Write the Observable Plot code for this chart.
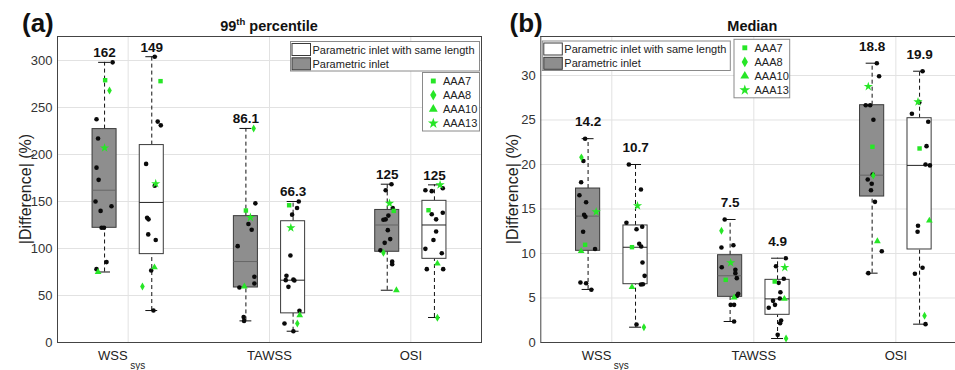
<!DOCTYPE html>
<html><head><meta charset="utf-8">
<script src="https://cdn.jsdelivr.net/npm/d3@7"></script>
<script src="https://cdn.jsdelivr.net/npm/@observablehq/plot@0.6"></script>
<style>
html,body{margin:0;padding:0;background:#fff;}
#wrap{position:relative;width:955px;height:370px;overflow:hidden;background:#fff;}
#pa,#pb{position:absolute;top:0;}
#pa{left:0;} #pb{left:483px;}
</style></head><body>
<div id="wrap"><div id="pa"></div><div id="pb"></div></div>
<script>
// ---------- data ----------
const categories = ["WSS", "TAWSS", "OSI"];
const categorySub = ["sys", "", ""];
const inlets = ["Parametric inlet", "Parametric inlet with same length"];
const patients = ["AAA7", "AAA8", "AAA10", "AAA13"];
const panelTags = ["(a)", "(b)"];
const yLabel = "|Difference| (%)";

// group order: WSS gray, WSS white, TAWSS gray, TAWSS white, OSI gray, OSI white
// Panel (a): 99th percentile
const p99Ticks = [0, 50, 100, 150, 200, 250, 300];
const p99Median = [162, 149, 86.1, 66.3, 125, 125];
const p99Q1 = [122, 94, 58.5, 31, 96.5, 89];
const p99Q3 = [227, 210, 134.4, 129, 141, 150.7];
const p99Lo = [75, 34, 23, 12, 55.6, 26.6];
const p99Hi = [298, 304, 227.7, 150, 168.4, 167.7];
const p99Black = [
  [298, 237.5, 217, 186, 173, 150, 145, 140, 122, 122, 85.5, 78],
  [304, 235, 231, 190, 166.7, 132.7, 131, 115, 109, 76.6, 34],
  [148, 126, 120, 102.5, 70, 62.8, 58.5, 27, 23],
  [150, 143, 136, 92.5, 71, 66.3, 67, 66, 59.2, 33.7, 20.2, 12],
  [168.4, 162, 143, 135, 131, 130.5, 119.5, 110, 106, 98, 86, 83.3],
  [164, 162, 161, 138, 136.5, 131, 118, 109, 99.6, 95, 78, 78]
];
const p99BlackJitter = [
  [.057, -.057, -.046, -.057, -.042, -.064, .049, -.028, -.021, -.004, .014, -.057],
  [.021, .042, .064, -.040, .021, -.033, -.023, -.025, .028, -.004, .012],
  [.067, .018, .041, -.058, .060, .060, -.046, -.016, -.013],
  [.040, .028, -.007, -.019, -.047, -.052, .002, .009, -.033, .045, -.061, .002],
  [.030, -.011, .039, .008, -.011, -.027, .004, .021, -.018, -.048, .035, .035],
  [.059, -.064, -.019, .059, -.019, .012, .012, -.007, -.064, .052, -.054, .062]
];
// per group: [AAA7, AAA8, AAA10, AAA13]
const p99Green = [
  [279, 268, 75, 207],
  [278, 59.6, 80, 169],
  [140.4, 227.7, 59.6, 133],
  [146, 20.2, 29, 122],
  [140, 95.4, 55.6, 148],
  [140.7, 26.3, 84, 167.7]
];
const p99GreenJitter = [
  [.004, .035, -.046, 0],
  [.062, -.066, .019, .028],
  [0, .055, -.011, .032],
  [-.028, .030, .047, -.016],
  [.046, -.027, .065, .016],
  [-.042, .021, .021, .040]
];

// Panel (b): Median
const medTicks = [0, 5, 10, 15, 20, 25, 30];
const medMedian = [14.2, 10.7, 7.5, 4.9, 18.8, 19.9];
const medQ1 = [10.3, 6.55, 5.13, 3.11, 16.4, 10.45];
const medQ3 = [17.3, 13.15, 9.81, 7.04, 26.66, 25.2];
const medLo = [5.96, 1.72, 2.36, 0.45, 7.79, 2.06];
const medHi = [22.9, 20.0, 13.82, 9.47, 31.38, 30.48];
const medBlack = [
  [22.9, 20.4, 18.0, 16.55, 15.76, 14.35, 14.12, 12.44, 10.5, 6.74, 6.66, 5.92],
  [20.0, 17.19, 13.45, 13.0, 12.73, 11.09, 10.79, 8.99, 7.49, 6.52, 6.55, 2.02],
  [13.82, 10.93, 10.67, 8.46, 8.17, 7.79, 7.23, 5.47, 5.24, 4.23, 4.23, 2.36],
  [9.47, 8.57, 7.16, 6.7, 5.65, 4.94, 4.68, 4.23, 3.9, 2.47, 2.17, 0.86],
  [31.38, 29.92, 26.66, 26.66, 25.02, 18.88, 18.31, 17.83, 17.11, 15.8, 10.26, 7.79],
  [30.48, 26.97, 25.7, 24.8, 22.06, 20.0, 19.9, 13.11, 12.44, 8.39, 7.72, 2.06]
];
const medBlackJitter = [
  [-.021, -.033, -.049, -.061, -.014, -.028, -.019, -.035, .049, -.054, -.014, .023],
  [-.047, .038, -.064, .047, .007, .026, .040, .049, .064, .038, .052, .007],
  [-.038, .023, -.061, -.059, .037, .037, .047, .057, .049, .004, .028, .028],
  [.058, -.011, .044, .008, .020, .016, -.032, -.018, -.062, .025, .018, .001],
  [.033, .049, -.045, -.014, .009, .004, -.031, -.003, -.008, .020, .068, -.027],
  [.021, -.002, -.054, .061, .049, .042, .073, -.011, -.014, .021, -.033, .042]
];
const medGreen = [
  [10.98, 20.8, 10.26, 14.68],
  [10.71, 1.72, 6.22, 15.36],
  [7.04, 12.55, 5.06, 8.96],
  [6.85, 0.45, 4.91, 8.43],
  [21.99, 18.76, 11.38, 28.76],
  [21.8, 3.0, 13.7, 27.04]
];
const medGreenJitter = [
  [-.021, -.047, -.049, .057],
  [-.025, .059, -.025, .014],
  [-.031, -.061, .028, .004],
  [-.020, .060, .048, .051],
  [.002, .008, .037, -.027],
  [0, .035, .069, -.011]
];

// ---------- style ----------
const FONT = "'Liberation Sans', Arial, Helvetica, sans-serif";
const GREEN = "#27e627";
const GRAY = "#8e8e8e";
const EDGE = "#3a3a3a";
const GRID = "#e2e2e2";
const boxOffset = 0.167, boxHalf = 0.085, capHalf = 0.042;
const symbols = ["square", "diamond", "triangle", "star"];
const symbolR = [2.5, 2.4, 2.5, 2.9];
const d3Symbols = [d3.symbolSquare, d3.symbolDiamond, d3.symbolTriangle, d3.symbolStar];

function groupX(i) { return Math.floor(i / 2) + 1 + (i % 2 === 0 ? -boxOffset : boxOffset); }

function makePanel(cfg) {
  const boxes = cfg.median.map((m, i) => ({
    x: groupX(i), inlet: i % 2, med: m, q1: cfg.q1[i], q3: cfg.q3[i], lo: cfg.lo[i], hi: cfg.hi[i], label: String(m)
  }));
  const blacks = cfg.black.flatMap((vals, i) => vals.map((v, j) => ({x: groupX(i) + cfg.blackJitter[i][j], y: v})));
  const greens = cfg.green.flatMap((vals, i) => vals.map((v, k) => ({x: groupX(i) + cfg.greenJitter[i][k], y: v, k})));
  const gray = boxes.filter(d => d.inlet === 0), white = boxes.filter(d => d.inlet === 1);
  const catIdx = categories.map((c, i) => ({c, s: categorySub[i], x: i + 1}));

  const marks = [
    Plot.ruleY(cfg.ticks, {stroke: GRID}),
    Plot.ruleX([1, 2, 3], {stroke: GRID}),
    Plot.ruleX(boxes, {x: "x", y1: "q3", y2: "hi", stroke: "#111", strokeDasharray: "4,3"}),
    Plot.ruleX(boxes, {x: "x", y1: "lo", y2: "q1", stroke: "#111", strokeDasharray: "4,3"}),
    Plot.rect(gray, {x1: d => d.x - boxHalf, x2: d => d.x + boxHalf, y1: "q1", y2: "q3", fill: GRAY, stroke: EDGE}),
    Plot.rect(white, {x1: d => d.x - boxHalf, x2: d => d.x + boxHalf, y1: "q1", y2: "q3", fill: "#fff", stroke: EDGE}),
    Plot.ruleY(gray, {y: "med", x1: d => d.x - boxHalf, x2: d => d.x + boxHalf, stroke: "#666"}),
    Plot.ruleY(white, {y: "med", x1: d => d.x - boxHalf, x2: d => d.x + boxHalf, stroke: "#222"}),
    Plot.ruleY(boxes, {y: "hi", x1: d => d.x - capHalf, x2: d => d.x + capHalf, stroke: "#111"}),
    Plot.ruleY(boxes, {y: "lo", x1: d => d.x - capHalf, x2: d => d.x + capHalf, stroke: "#111"}),
    Plot.dot(blacks, {x: "x", y: "y", r: 2.3, fill: "#0a0a0a"}),
    ...patients.map((p, k) => Plot.dot(greens.filter(d => d.k === k), {x: "x", y: "y", symbol: symbols[k], r: symbolR[k], fill: GREEN})),
    Plot.text(boxes, {x: "x", y: "hi", text: "label", dy: cfg.labelDy, lineAnchor: "bottom", fontWeight: "bold", fontSize: 13.5, fill: "#111"}),
    Plot.text(catIdx.filter(d => !d.s), {x: "x", y: () => 0, text: "c", dy: 17.3, lineAnchor: "bottom", fontSize: 13, fill: "#222"}),
    Plot.text(catIdx.filter(d => d.s), {x: "x", y: () => 0, text: "c", dy: 17.3, dx: -0.5, textAnchor: "end", lineAnchor: "bottom", fontSize: 13, fill: "#222"}),
    Plot.text(catIdx.filter(d => d.s), {x: "x", y: () => 0, text: "s", dy: 26, dx: 2, textAnchor: "start", lineAnchor: "bottom", fontSize: 10, fill: "#222"}),
    Plot.axisY(cfg.ticks, {tickSize: 0, tickPadding: 5, fontSize: 13, label: null, color: "#333"}),
  ];
  if (cfg.fullFrame) marks.push(Plot.frame({stroke: "#444"}));
  else marks.push(
    Plot.ruleY([0, cfg.yMax], {stroke: "#444"}),
    Plot.ruleX([0.5], {stroke: "#444"})
  );

  const svg = Plot.plot({
    width: cfg.width, height: 370,
    marginTop: 36, marginBottom: 28, marginLeft: cfg.marginLeft, marginRight: cfg.marginRight,
    style: {fontFamily: FONT, fontSize: "13px", background: "transparent", overflow: "visible"},
    x: {domain: [0.5, cfg.xMax], axis: null},
    y: {domain: [0, cfg.yMax]},
    marks
  });
  document.querySelector(cfg.el).appendChild(svg);

  const s = d3.select(svg);
  // panel tag and title
  s.append("text").attr("x", cfg.tagX).attr("y", 31.5).attr("text-anchor", "start").attr("font-family", FONT)
    .attr("font-size", 26).attr("font-weight", "bold").attr("fill", "#111").text(cfg.tag);
  const t = s.append("text").attr("x", cfg.titleX).attr("y", 31).attr("text-anchor", "middle")
    .attr("font-family", FONT).attr("font-size", 14.5).attr("font-weight", "bold").attr("fill", "#111");
  cfg.title.forEach(part => {
    const ts = t.append("tspan").text(part.t);
    if (part.sup) ts.attr("font-size", 9.5).attr("dy", -6);
    else if (part.after) ts.attr("dy", 6);
  });
  // y label
  s.append("text").attr("transform", `translate(${cfg.yLabelX},189) rotate(-90)`)
    .attr("text-anchor", "middle").attr("dy", "0.35em").attr("font-family", FONT)
    .attr("font-size", 16).attr("fill", "#222").text(yLabel);

  // legend 1: inlets
  const L1 = cfg.leg1, L2 = cfg.leg2;
  const g = s.append("g").attr("font-family", FONT).attr("font-size", 11).attr("fill", "#222").attr("text-anchor", "start");
  g.append("rect").attr("x", L1.x).attr("y", L1.y).attr("width", L1.w).attr("height", 29.5)
    .attr("fill", "#fff").attr("stroke", "#8a8a8a");
  [inlets[1], inlets[0]].forEach((lab, r) => {
    const cy = L1.y + 8 + r * 14.3;
    g.append("rect").attr("x", L1.x + 1.5).attr("y", cy - 6).attr("width", 18.5).attr("height", 12)
      .attr("fill", r === 0 ? "#fff" : GRAY).attr("stroke", EDGE);
    g.append("text").attr("x", L1.x + 22).attr("y", cy + 4).attr("text-anchor", "start").text(lab);
  });
  // legend 2: patients
  g.append("rect").attr("x", L2.x).attr("y", L2.y).attr("width", L2.w).attr("height", 58.5)
    .attr("fill", "#fff").attr("stroke", "#8a8a8a");
  const sizes = [24, 34, 34, 36];
  patients.forEach((p, k) => {
    const cy = L2.y + 8.5 + k * 14.1;
    g.append("path").attr("transform", `translate(${L2.x + 10.8},${cy})`)
      .attr("d", d3.symbol().type(d3Symbols[k]).size(sizes[k])()).attr("fill", GREEN);
    g.append("text").attr("x", L2.x + 20.5).attr("y", cy + 4).attr("text-anchor", "start").text(p);
  });
}

makePanel({
  el: "#pa", width: 483, marginLeft: 57, marginRight: 2, xMax: 3.5, yMax: 325.5, ticks: p99Ticks,
  median: p99Median, q1: p99Q1, q3: p99Q3, lo: p99Lo, hi: p99Hi,
  black: p99Black, blackJitter: p99BlackJitter, green: p99Green, greenJitter: p99GreenJitter,
  labelDy: -5, fullFrame: true,
  tag: panelTags[0], tagX: 22, titleX: 269,
  title: [{t: "99"}, {t: "th", sup: true}, {t: " percentile", after: true}],
  yLabelX: 25,
  leg1: {x: 290.5, y: 41.5, w: 189}, leg2: {x: 422.5, y: 72.5, w: 57}
});
makePanel({
  el: "#pb", width: 472, marginLeft: 57.3, marginRight: 0, xMax: 3.42, yMax: 34.38, ticks: medTicks,
  median: medMedian, q1: medQ1, q3: medQ3, lo: medLo, hi: medHi,
  black: medBlack, blackJitter: medBlackJitter, green: medGreen, greenJitter: medGreenJitter,
  labelDy: -12.5, fullFrame: false,
  tag: panelTags[1], tagX: 26.5, titleX: 269.3,
  title: [{t: "Median"}],
  yLabelX: 29,
  leg1: {x: 59.3, y: 41, w: 188}, leg2: {x: 251, y: 39.3, w: 55.7}
});
</script>
</body></html>
